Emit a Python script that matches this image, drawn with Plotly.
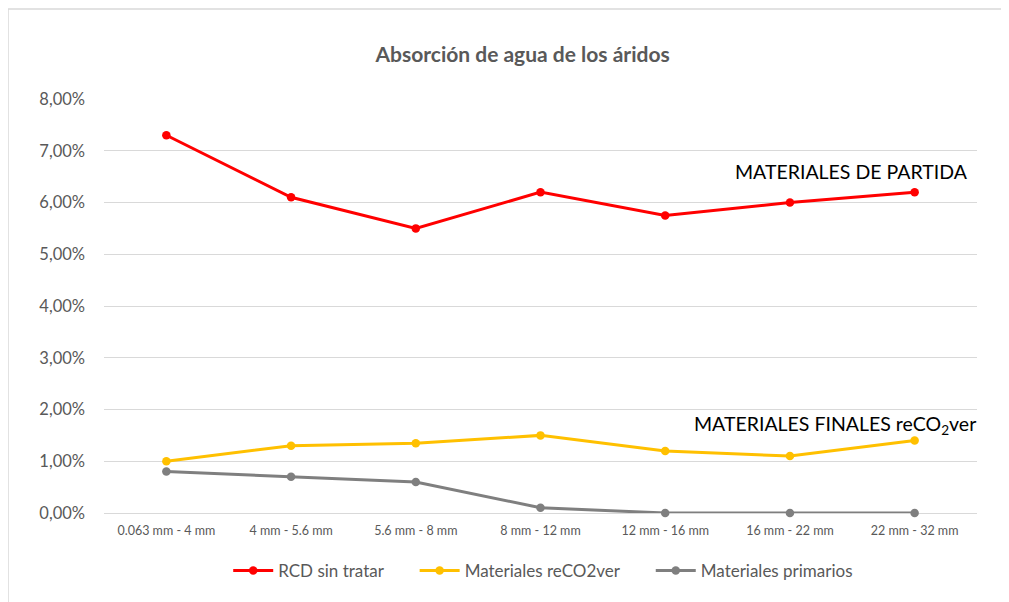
import plotly.graph_objects as go

categories = ["0.063 mm - 4 mm", "4 mm - 5.6 mm", "5.6 mm - 8 mm", "8 mm - 12 mm",
              "12 mm - 16 mm", "16 mm - 22 mm", "22 mm - 32 mm"]
rcd_sin_tratar = [7.30, 6.10, 5.50, 6.20, 5.75, 6.00, 6.20]
materiales_reco2ver = [1.00, 1.30, 1.35, 1.50, 1.20, 1.10, 1.40]
materiales_primarios = [0.80, 0.70, 0.60, 0.10, 0.00, 0.00, 0.00]
y_ticks = [0, 1, 2, 3, 4, 5, 6, 7, 8]
y_ticktext = [f"{v:.2f}".replace(".", ",") + "%" for v in y_ticks]

series = [
    ("RCD sin tratar", rcd_sin_tratar, "#FF0000"),
    ("Materiales reCO2ver", materiales_reco2ver, "#FFC000"),
    ("Materiales primarios", materiales_primarios, "#7F7F7F"),
]

fig = go.Figure()
for name, vals, color in series:
    fig.add_trace(go.Scatter(
        x=categories, y=vals, name=name + "      ", mode="lines+markers",
        line=dict(color=color, width=3),
        marker=dict(color=color, size=8.5),
        cliponaxis=False,
    ))

font_family = "Lato, 'Open Sans', sans-serif"
# page body has an 8px offset; margins compensate for it
fig.update_layout(
    width=1009, height=602,
    margin=dict(l=96, r=40, t=91, b=97),
    paper_bgcolor="white", plot_bgcolor="white",
    font=dict(family=font_family, color="#595959"),
    title=dict(text="<b>Absorción de agua de los áridos</b>", x=0.51, xanchor="center",
               y=1 - 47 / 602, yanchor="middle", yref="container",
               font=dict(size=21, color="#595959", family=font_family)),
    showlegend=True,
    legend=dict(orientation="h", x=0.518, xanchor="center", y=-0.14, yanchor="middle",
                font=dict(size=17, color="#595959"), itemwidth=40,
                tracegroupgap=0),
    xaxis=dict(type="category", range=[-0.5, 6.5], showgrid=False, showline=False,
               ticks="", tickfont=dict(size=12.5, color="#595959"), zeroline=False,
               ticklabelstandoff=8),
    yaxis=dict(range=[0, 8], tickvals=y_ticks, ticktext=y_ticktext,
               showgrid=True, gridcolor="#D9D9D9", gridwidth=1.3,
               zeroline=True, zerolinecolor="#D9D9D9", zerolinewidth=1.3,
               showline=False, ticks="", ticklabelstandoff=18,
               tickfont=dict(size=16.5, color="#595959")),
    shapes=[dict(type="rect", xref="paper", yref="paper",
                 x0=(8 - 104) / 873, x1=1.2, y0=-0.5, y1=(513 - 9) / 414,
                 line=dict(color="#D9D9D9", width=1.5), fillcolor="rgba(0,0,0,0)",
                 layer="below")],
    annotations=[
        dict(text="MATERIALES DE PARTIDA", xref="paper", yref="paper",
             x=(970 - 104) / 873, xanchor="right", y=(513 - 171) / 414, yanchor="middle",
             showarrow=False, font=dict(size=19.5, color="#000000", family=font_family)),
        dict(text="MATERIALES FINALES reCO<sub>2</sub>ver", xref="paper", yref="paper",
             x=(978 - 104) / 873, xanchor="right", y=(513 - 425) / 414, yanchor="middle",
             showarrow=False, font=dict(size=19.5, color="#000000", family=font_family)),
    ],
)

fig.write_html("out.html")
